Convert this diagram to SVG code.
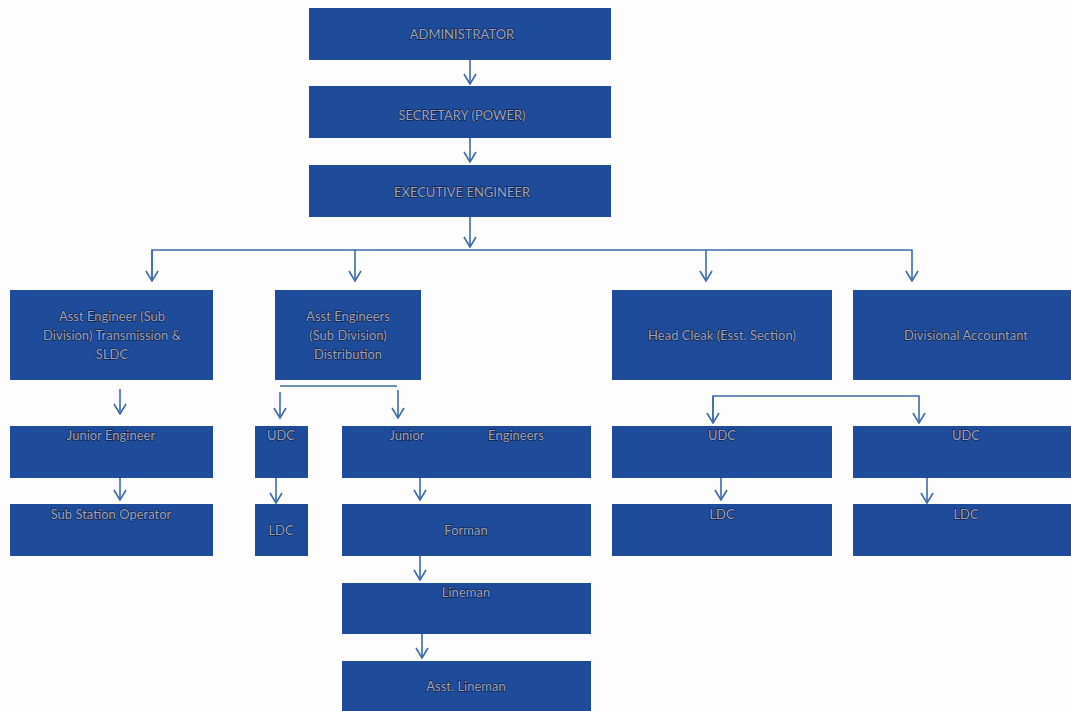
<svg xmlns="http://www.w3.org/2000/svg" width="1071" height="711" viewBox="0 0 1071 711">
<defs>
<marker id="arr" viewBox="0 0 12 14" refX="11" refY="7" markerWidth="12" markerHeight="14" markerUnits="userSpaceOnUse" orient="auto">
<path d="M1,1 L11,7 L1,13" fill="none" stroke="#3d6aa6" stroke-width="1.6"/>
</marker>
<style>
.b{fill:#1e4c9b;}
.t{font-family:"Lato","Liberation Sans",Arial,sans-serif;font-size:13px;fill:#9aa8c8;stroke:#121c42;stroke-width:1.3px;paint-order:stroke;text-anchor:middle;}
.c{fill:none;stroke:#3d6aa6;stroke-width:1.6;}
</style>
</defs>
<rect width="1071" height="711" fill="#fdfdfd"/>
<g id="connectors">
<line class="c" x1="470" y1="60" x2="470" y2="84" marker-end="url(#arr)"/>
<line class="c" x1="470" y1="138" x2="470" y2="162" marker-end="url(#arr)"/>
<line class="c" x1="470" y1="217" x2="470" y2="247" marker-end="url(#arr)"/>
<polyline class="c" points="152,281 152,250 912,250 912,281" marker-end="url(#arr)"/>
<line class="c" x1="152" y1="250" x2="152" y2="281" marker-end="url(#arr)"/>
<line class="c" x1="355" y1="250" x2="355" y2="281" marker-end="url(#arr)"/>
<line class="c" x1="706" y1="250" x2="706" y2="281" marker-end="url(#arr)"/>
<line class="c" x1="120" y1="389" x2="120" y2="414" marker-end="url(#arr)"/>
<line class="c" x1="280" y1="386" x2="397" y2="386"/>
<line class="c" x1="280" y1="392" x2="280" y2="418" marker-end="url(#arr)"/>
<line class="c" x1="398" y1="390" x2="398" y2="418" marker-end="url(#arr)"/>
<polyline class="c" points="713,423 713,396 919,396 919,423" marker-end="url(#arr)"/>
<line class="c" x1="713" y1="396" x2="713" y2="423" marker-end="url(#arr)"/>
<line class="c" x1="120" y1="478" x2="120" y2="500" marker-end="url(#arr)"/>
<line class="c" x1="276" y1="478" x2="276" y2="503" marker-end="url(#arr)"/>
<line class="c" x1="420" y1="478" x2="420" y2="500" marker-end="url(#arr)"/>
<line class="c" x1="420" y1="556" x2="420" y2="580" marker-end="url(#arr)"/>
<line class="c" x1="422" y1="634" x2="422" y2="658" marker-end="url(#arr)"/>
<line class="c" x1="721" y1="478" x2="721" y2="500" marker-end="url(#arr)"/>
<line class="c" x1="927" y1="478" x2="927" y2="503" marker-end="url(#arr)"/>
</g>
<g id="administrator"><rect class="b" x="309" y="8" width="302" height="52"/><text class="t" x="462" y="39">ADMINISTRATOR</text></g>
<g id="secretary"><rect class="b" x="309" y="86" width="302" height="52"/><text class="t" x="462" y="120">SECRETARY (POWER)</text></g>
<g id="executive"><rect class="b" x="309" y="165" width="302" height="52"/><text class="t" x="462" y="197">EXECUTIVE ENGINEER</text></g>
<g id="ae-trans"><rect class="b" x="10" y="290" width="203" height="90"/><text class="t" x="112" y="321">Asst Engineer (Sub</text><text class="t" x="112" y="340">Division) Transmission &amp;</text><text class="t" x="112" y="359">SLDC</text></g>
<g id="ae-dist"><rect class="b" x="275" y="290" width="146" height="90"/><text class="t" x="348" y="321">Asst Engineers</text><text class="t" x="348" y="340">(Sub Division)</text><text class="t" x="348" y="359">Distribution</text></g>
<g id="head-cleak"><rect class="b" x="612" y="290" width="220" height="90"/><text class="t" x="722" y="340">Head Cleak (Esst. Section)</text></g>
<g id="div-acc"><rect class="b" x="853" y="290" width="218" height="90"/><text class="t" x="966" y="340">Divisional Accountant</text></g>
<g id="je"><rect class="b" x="10" y="426" width="203" height="52"/><text class="t" x="111" y="440">Junior Engineer</text></g>
<g id="udc1"><rect class="b" x="255" y="426" width="53" height="52"/><text class="t" x="281" y="440">UDC</text></g>
<g id="jes"><rect class="b" x="342" y="426" width="249" height="52"/><text class="t" x="407" y="440">Junior</text><text class="t" x="516" y="440">Engineers</text></g>
<g id="udc2"><rect class="b" x="612" y="426" width="220" height="52"/><text class="t" x="722" y="440">UDC</text></g>
<g id="udc3"><rect class="b" x="853" y="426" width="218" height="52"/><text class="t" x="966" y="440">UDC</text></g>
<g id="sso"><rect class="b" x="10" y="504" width="203" height="52"/><text class="t" x="111" y="519">Sub Station Operator</text></g>
<g id="ldc1"><rect class="b" x="255" y="504" width="53" height="52"/><text class="t" x="281" y="535">LDC</text></g>
<g id="forman"><rect class="b" x="342" y="504" width="249" height="52"/><text class="t" x="466" y="535">Forman</text></g>
<g id="ldc2"><rect class="b" x="612" y="504" width="220" height="52"/><text class="t" x="722" y="519">LDC</text></g>
<g id="ldc3"><rect class="b" x="853" y="504" width="218" height="52"/><text class="t" x="966" y="519">LDC</text></g>
<g id="lineman"><rect class="b" x="342" y="583" width="249" height="51"/><text class="t" x="466" y="597">Lineman</text></g>
<g id="asst-lineman"><rect class="b" x="342" y="661" width="249" height="50"/><text class="t" x="466" y="691">Asst. Lineman</text></g>
</svg>
